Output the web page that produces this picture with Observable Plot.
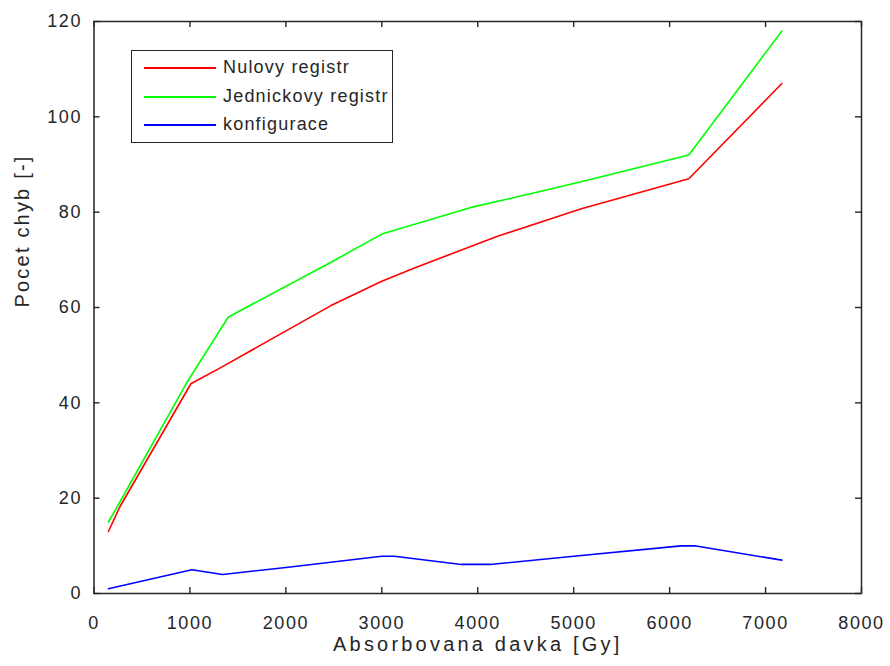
<!DOCTYPE html>
<html><head><meta charset="utf-8">
<script src="https://cdn.jsdelivr.net/npm/d3@7"></script>
<script src="https://cdn.jsdelivr.net/npm/@observablehq/plot@0.6"></script>
<style>
body{margin:0;background:#fff;}
#wrap{position:relative;width:890px;height:666px;}
#legend{position:absolute;left:131px;top:50px;width:262px;height:93px;border:1.4px solid #262626;box-sizing:border-box;background:#fff;font-family:"Liberation Sans",Arial,sans-serif;font-size:18px;color:#262626;letter-spacing:1.2px}
.row{position:absolute;left:0;height:28px;width:100%}
.sw{position:absolute;left:12px;width:72px;top:13px;height:2px}
.lb{position:absolute;left:91px;top:50%;transform:translateY(-52%);white-space:nowrap}
</style>
</head><body>
<div id="wrap"></div>
<script>
const xTicks = [0,1000,2000,3000,4000,5000,6000,7000,8000];
const yTicks = [0,20,40,60,80,100,120];
const seriesNames = ["Nulovy registr","Jednickovy registr","konfigurace"];
const seriesColors = ["#ff0000","#00ff00","#0000ff"];
const xLabel = "Absorbovana davka [Gy]";
const yLabel = "Pocet chyb [-]";

const redX = [150,270,1010,1340,2470,3000,3340,4200,5080,6200,7170];
const redY = [13,18.2,44,47.6,60.4,65.5,68.3,74.9,80.7,87,107];
const greenX = [150,245,960,1400,2470,3000,3930,4560,5120,6200,7170];
const greenY = [15,18.3,44,58,69.5,75.4,81,83.9,86.6,92,118];
const blueX = [150,1020,1340,2000,3000,3130,3830,4130,5000,6120,6260,7170];
const blueY = [1,5,4,5.45,7.8,7.8,6.1,6.1,7.8,10,10,7];

const toRows = (xs, ys, s) => xs.map((x,i)=>({x, y: ys[i], s}));
const data = [
  ...toRows(redX, redY, seriesNames[0]),
  ...toRows(greenX, greenY, seriesNames[1]),
  ...toRows(blueX, blueY, seriesNames[2])
];

const W=890,H=666,mL=93.5,mR=29,mT=21,mB=73;
const plotH = H-mT-mB, plotW = W-mL-mR, tk = 6;
const ink = "#262626";

const chart = Plot.plot({
  width:W, height:H, marginLeft:mL, marginRight:mR, marginTop:mT, marginBottom:mB,
  style:{fontFamily:"'Liberation Sans',Arial,sans-serif", fontSize:"18px", color:ink, background:"#fff"},
  x:{domain:[0,8000]},
  y:{domain:[0,120]},
  color:{domain:seriesNames, range:seriesColors},
  marks:[
    Plot.line(data,{x:"x",y:"y",z:"s",stroke:"s",strokeWidth:1.6}),
    Plot.tickX(xTicks,{x:d=>d,insetTop:plotH-tk,stroke:ink,strokeWidth:1.4}),
    Plot.tickX(xTicks,{x:d=>d,insetBottom:plotH-tk,stroke:ink,strokeWidth:1.4}),
    Plot.tickY(yTicks,{y:d=>d,insetRight:plotW-tk,stroke:ink,strokeWidth:1.4}),
    Plot.tickY(yTicks,{y:d=>d,insetLeft:plotW-tk,stroke:ink,strokeWidth:1.4}),
    Plot.frame({stroke:ink,strokeWidth:1.5}),
    Plot.axisX(xTicks,{tickSize:0,tickPadding:23,label:null,fontSize:18,fill:ink,tickFormat:d3.format("d")}),
    Plot.axisY(yTicks,{tickSize:0,tickPadding:12,label:null,fontSize:18,fill:ink,tickFormat:d3.format("d")}),
    Plot.text([xLabel],{text:d=>d,frameAnchor:"bottom",dy:57,fontSize:20,fill:ink}),
    Plot.text([yLabel],{text:d=>d,frameAnchor:"left",dx:-71,rotate:-90,fontSize:20,fill:ink})
  ]
});
d3.select(chart).selectAll('g[aria-label="x-axis tick label"] text, g[aria-label="y-axis tick label"] text').style("letter-spacing","1.6px");
d3.select(chart).selectAll('g[aria-label="text"] text').each(function(){
  const t = d3.select(this);
  t.style("letter-spacing", t.text()===xLabel ? "3.2px" : "2.2px");
});
const wrap = document.getElementById("wrap");
wrap.appendChild(chart);

const leg = d3.select(wrap).append("div").attr("id","legend");
seriesNames.forEach((n,i)=>{
  const r = leg.append("div").attr("class","row").style("top",(3+i*28.5)+"px");
  r.append("div").attr("class","sw").style("background",seriesColors[i]);
  r.append("div").attr("class","lb").text(n);
});
</script>
</body></html>
